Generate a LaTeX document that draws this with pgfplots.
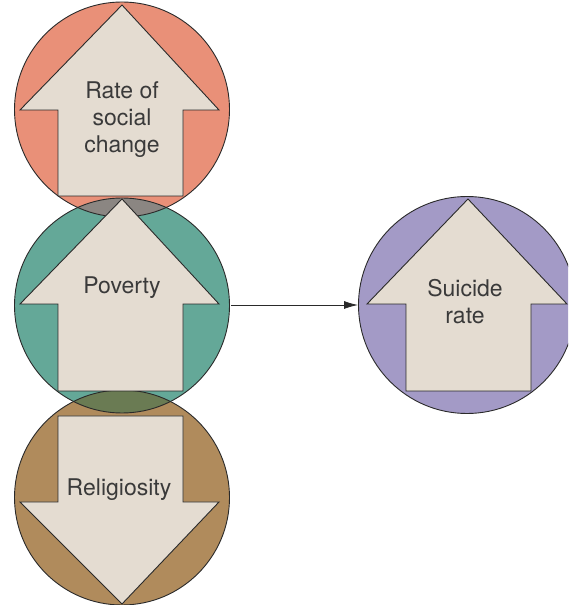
\documentclass[border=0pt]{standalone}
\usepackage{pgfplots}
\pgfplotsset{compat=1.18}
\usepackage{fontspec}
\setmainfont{TeX Gyre Heros}
\usetikzlibrary{arrows.meta}
\definecolor{cred}{HTML}{E99078}
\definecolor{cgreen}{HTML}{64A898}
\definecolor{cbrown}{HTML}{B08B5C}
\definecolor{cpurple}{HTML}{A39AC6}
\definecolor{carrow}{HTML}{E4DCD1}
\definecolor{cgrey}{HTML}{8B8682}
\definecolor{colive}{HTML}{6A7B53}
\definecolor{ctext}{HTML}{3A3A3A}
\definecolor{cline}{HTML}{2A2A2A}
\begin{document}
\begin{tikzpicture}
\begin{axis}[
  width=568pt, height=605pt, scale only axis,
  xmin=0, xmax=568, ymin=0, ymax=605,
  hide axis, clip=true,
]
\path[draw=none] (rel axis cs:0,0) rectangle (rel axis cs:1,1);
% circles
\fill[cred] (axis cs:122,495.5) circle[radius=107.5];
\fill[cgreen] (axis cs:122,299.5) circle[radius=107.5];
\fill[cbrown] (axis cs:122,107.5) circle[radius=107.5];
\fill[cpurple] (axis cs:467,300) circle[radius=108.5];
% overlaps
\begin{scope}
\clip (axis cs:122,495.5) circle[radius=107.5];
\fill[cgrey] (axis cs:122,299.5) circle[radius=107.5];
\end{scope}
\begin{scope}
\clip (axis cs:122,299.5) circle[radius=107.5];
\fill[colive] (axis cs:122,107.5) circle[radius=107.5];
\end{scope}
% outlines
\draw[cline, line width=0.9pt] (axis cs:122,495.5) circle[radius=107.5];
\draw[cline, line width=0.9pt] (axis cs:122,299.5) circle[radius=107.5];
\draw[cline, line width=0.9pt] (axis cs:122,107.5) circle[radius=107.5];
\draw[cline, line width=0.9pt] (axis cs:467,300) circle[radius=108.5];
% connector
\addplot[cline, line width=0.8pt, -{Latex[length=14pt,width=8pt]}] coordinates {(231,300) (358,300)};
% arrows
\addplot[fill=carrow, draw=cline, line width=0.9pt] coordinates {
 (122,600) (219,495) (183,495) (183,409) (58,409) (58,495) (20,495)} -- cycle;
\addplot[fill=carrow, draw=cline, line width=0.9pt] coordinates {
 (122,406) (219,301) (183,301) (183,214) (58,214) (58,301) (20,301)} -- cycle;
\addplot[fill=carrow, draw=cline, line width=0.9pt] coordinates {
 (58,189) (183,189) (183,103) (219,103) (122,1) (20,103) (58,103)} -- cycle;
\addplot[fill=carrow, draw=cline, line width=0.9pt] coordinates {
 (468,406) (567,301) (531,301) (531,214) (406,214) (406,301) (367,301)} -- cycle;
% labels
\node[text=ctext, font=\fontsize{23}{27}\selectfont, align=center] at (axis cs:122,485) {Rate of\\social\\change};
\node[text=ctext, font=\fontsize{23}{27}\selectfont, align=center] at (axis cs:122,317) {Poverty};
\node[text=ctext, font=\fontsize{23}{27}\selectfont, align=center] at (axis cs:119,115) {Religiosity};
\node[text=ctext, font=\fontsize{23}{27}\selectfont, align=center] at (axis cs:465,303) {Suicide\\rate};
\end{axis}
\end{tikzpicture}
\end{document}
